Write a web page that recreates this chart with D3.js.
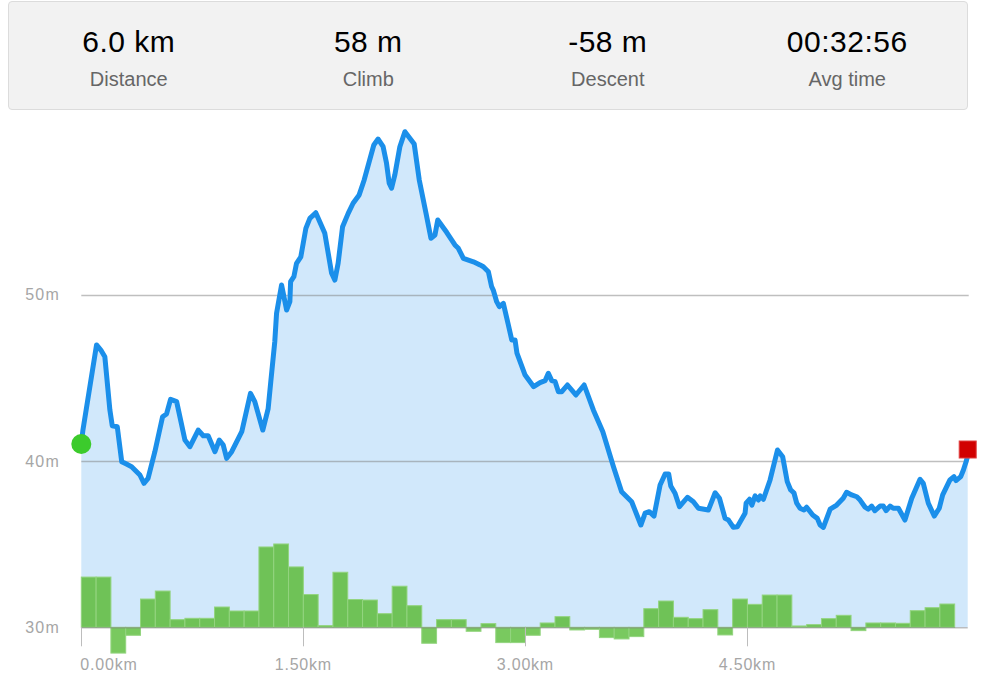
<!DOCTYPE html>
<html>
<head>
<meta charset="utf-8">
<script src="https://cdn.jsdelivr.net/npm/d3@7"></script>
<style>
  body { margin: 0; background: #fff; font-family: "Liberation Sans", Arial, sans-serif; }
  #stats {
    position: absolute; left: 8px; top: 1px; width: 958px; height: 107px;
    background: #f2f2f2; border: 1px solid #dcdcdc; border-radius: 4px;
    display: flex;
  }
  .stat { flex: 1; text-align: center; }
  .stat .val { font-size: 30px; letter-spacing: 0.5px; color: #000; margin-top: 22px; line-height: 35px; }
  .stat .lbl { font-size: 20px; color: #666; margin-top: 9px; line-height: 23px; }
  svg { position: absolute; left: 0; top: 0; }
</style>
</head>
<body>
<div id="stats"></div>
<svg width="983" height="684"></svg>
<script>
// Summary numbers shown in the header.
const statValues = ["6.0 km", "58 m", "-58 m", "00:32:56"];
const statLabels = ["Distance", "Climb", "Descent", "Avg time"];

// Elevation profile: distance (km) and elevation (m).
const distKm = [
  0.000, 0.011, 0.103, 0.132, 0.159, 0.193, 0.209, 0.243, 0.273, 0.295,
  0.340, 0.396, 0.423, 0.451, 0.497, 0.549, 0.576, 0.603, 0.644, 0.700,
  0.734, 0.790, 0.824, 0.857, 0.903, 0.932, 0.959, 0.982, 1.016, 1.084,
  1.143, 1.172, 1.226, 1.262, 1.280, 1.307, 1.319, 1.353, 1.387, 1.409,
  1.414, 1.436, 1.454, 1.483, 1.517, 1.544, 1.584, 1.645, 1.691, 1.713,
  1.735, 1.765, 1.803, 1.836, 1.877, 1.911, 1.976, 2.005, 2.039, 2.062,
  2.080, 2.096, 2.118, 2.152, 2.186, 2.249, 2.283, 2.329, 2.362, 2.389,
  2.408, 2.468, 2.524, 2.547, 2.581, 2.649, 2.694, 2.716, 2.750, 2.772,
  2.783, 2.806, 2.824, 2.851, 2.885, 2.908, 2.930, 2.943, 2.998, 3.056,
  3.099, 3.133, 3.155, 3.178, 3.201, 3.223, 3.246, 3.284, 3.341, 3.397,
  3.459, 3.523, 3.595, 3.650, 3.718, 3.780, 3.809, 3.837, 3.869, 3.910,
  3.944, 3.968, 3.982, 4.011, 4.041, 4.095, 4.135, 4.169, 4.236, 4.282,
  4.311, 4.349, 4.372, 4.405, 4.432, 4.484, 4.491, 4.514, 4.530, 4.552,
  4.574, 4.586, 4.608, 4.653, 4.703, 4.738, 4.769, 4.792, 4.814, 4.833,
  4.855, 4.882, 4.900, 4.941, 4.972, 4.991, 5.013, 5.059, 5.103, 5.147,
  5.170, 5.204, 5.239, 5.261, 5.295, 5.316, 5.339, 5.361, 5.396, 5.418,
  5.437, 5.464, 5.485, 5.520, 5.564, 5.610, 5.666, 5.688, 5.722, 5.762,
  5.796, 5.819, 5.868, 5.895, 5.909, 5.941, 5.959, 5.977, 5.988
];
const elevM = [
  41.02, 41.86, 46.98, 46.67, 46.27, 43.07, 42.12, 42.06, 39.96, 39.86,
  39.66, 39.16, 38.66, 38.96, 40.56, 42.66, 42.83, 43.71, 43.57, 41.26,
  40.86, 41.86, 41.52, 41.52, 40.56, 41.26, 40.96, 40.16, 40.56, 41.76,
  44.07, 43.57, 41.86, 43.13, 44.77, 47.17, 48.88, 50.58, 49.08, 49.58,
  50.78, 51.08, 51.89, 52.28, 53.99, 54.59, 54.93, 53.69, 51.29, 50.88,
  51.89, 54.09, 54.89, 55.50, 56.00, 56.90, 59.00, 59.36, 58.90, 57.90,
  56.70, 56.40, 57.20, 58.90, 59.80, 59.06, 56.90, 54.89, 53.39, 53.59,
  54.49, 53.75, 52.99, 52.79, 52.19, 51.98, 51.79, 51.68, 51.38, 50.48,
  50.28, 49.58, 49.28, 49.48, 48.18, 47.28, 47.28, 46.49, 45.17, 44.47,
  44.71, 44.83, 45.27, 44.83, 44.77, 44.17, 44.17, 44.57, 43.97, 44.57,
  43.07, 41.76, 39.66, 38.15, 37.55, 36.15, 36.86, 36.95, 36.69, 38.56,
  39.22, 39.22, 38.50, 38.06, 37.25, 37.82, 37.55, 37.16, 37.05, 38.09,
  37.76, 36.55, 36.45, 36.01, 36.05, 36.86, 37.46, 37.70, 37.35, 37.90,
  37.65, 37.90, 37.70, 38.86, 40.66, 40.26, 38.76, 38.26, 38.09, 37.46,
  37.16, 37.05, 37.22, 36.75, 36.55, 36.15, 36.01, 37.10, 37.35, 37.76,
  38.12, 37.96, 37.85, 37.65, 37.22, 37.10, 37.29, 37.01, 37.29, 37.29,
  37.01, 37.29, 37.16, 37.16, 36.45, 37.76, 38.90, 38.66, 37.46, 36.69,
  37.16, 37.96, 38.86, 39.06, 38.82, 39.06, 39.46, 39.96, 40.30
];

// Climb per 100 m segment (m), drawn as bars from the 30 m baseline.
const segClimb = [
  3.02, 3.02, -1.55, -0.48, 1.70, 2.18, 0.46, 0.54, 0.54, 1.22,
  0.98, 0.98, 4.83, 5.01, 3.63, 1.97, 0.10, 3.31, 1.67, 1.64,
  0.82, 2.47, 1.30, -0.96, 0.46, 0.46, -0.24, 0.22, -0.92, -0.92,
  -0.48, 0.26, 0.64, -0.16, -0.12, -0.62, -0.70, -0.56, 1.12, 1.58,
  0.60, 0.52, 1.06, -0.46, 1.70, 1.38, 1.94, 1.94, 0.08, 0.16,
  0.52, 0.72, -0.20, 0.26, 0.26, 0.24, 1.00, 1.18, 1.40
];
const segLen = 0.1;

const yTicks = [30, 40, 50];
const xTicks = [0, 1.5, 3.0, 4.5];

// Header.
const stats = d3.select("#stats").selectAll(".stat")
  .data(statValues.map((v, i) => ({ v, l: statLabels[i] })))
  .join("div").attr("class", "stat");
stats.append("div").attr("class", "val").text(d => d.v);
stats.append("div").attr("class", "lbl").text(d => d.l);

// Chart.
const svg = d3.select("svg");
const plotLeft = 81.3, plotRight = 967.7, plotTop = 128.4, plotBottom = 627.3;

const x = d3.scaleLinear().domain([0, d3.max(distKm)]).range([plotLeft, plotRight]);
const y = d3.scaleLinear().domain([30, 60]).range([plotBottom, plotTop]);

const pts = distKm.map((d, i) => ({ d, e: elevM[i] }));

// Area under profile.
svg.append("path")
  .datum(pts)
  .attr("fill", "#d1e8fb")
  .attr("d", d3.area().x(p => x(p.d)).y0(plotBottom).y1(p => y(p.e)));

// Grid lines.
svg.append("g")
  .selectAll("line")
  .data(yTicks.slice(1))
  .join("line")
  .attr("x1", plotLeft).attr("x2", plotRight + 1)
  .attr("y1", t => Math.round(y(t)) + 0.5).attr("y2", t => Math.round(y(t)) + 0.5)
  .attr("stroke", "#808080").attr("stroke-opacity", 0.5).attr("stroke-width", 1.5);

// Y labels.
svg.append("g")
  .selectAll("text")
  .data(yTicks)
  .join("text")
  .attr("x", 60).attr("y", t => y(t) + 5.5)
  .attr("text-anchor", "end")
  .attr("font-size", 16).attr("letter-spacing", 1.2).attr("fill", "#a6a6a6")
  .text(t => t + "m");

// Segment bars.
svg.append("g")
  .selectAll("rect")
  .data(segClimb)
  .join("rect")
  .attr("x", (v, i) => x(i * segLen))
  .attr("width", x(segLen) - x(0))
  .attr("y", v => v >= 0 ? y(30 + v) : y(30))
  .attr("height", v => Math.abs(y(30) - y(30 + v)))
  .attr("fill", v => v >= 0 ? "#6fc257" : "#79c95f")
  .attr("stroke", "#93d47f")
  .attr("stroke-width", 1);

// X axis line, ticks, labels.
svg.append("line")
  .attr("x1", plotLeft).attr("x2", plotRight)
  .attr("y1", plotBottom + 0.5).attr("y2", plotBottom + 0.5)
  .attr("stroke", "#808080").attr("stroke-opacity", 0.5).attr("stroke-width", 1.5);

const xt = svg.append("g").selectAll("g").data(xTicks).join("g");
xt.append("line")
  .attr("x1", t => Math.round(x(t)) + 0.5).attr("x2", t => Math.round(x(t)) + 0.5)
  .attr("y1", plotBottom).attr("y2", plotBottom + 19)
  .attr("stroke", "#bdbdbd");
xt.append("text")
  .attr("x", (t, i) => i === 0 ? x(t) - 1 : x(t))
  .attr("y", 670)
  .attr("text-anchor", (t, i) => i === 0 ? "start" : "middle")
  .attr("font-size", 16).attr("letter-spacing", 0.8).attr("fill", "#a6a6a6")
  .text(t => t.toFixed(2) + "km");

// Profile line.
svg.append("path")
  .datum(pts)
  .attr("fill", "none")
  .attr("stroke", "#1b8fea")
  .attr("stroke-width", 5)
  .attr("stroke-linejoin", "round")
  .attr("stroke-linecap", "round")
  .attr("d", d3.line().x(p => x(p.d)).y(p => y(p.e)));

// Start and end markers.
const first = pts[0], last = pts[pts.length - 1];
svg.append("circle")
  .attr("cx", x(first.d)).attr("cy", y(first.e)).attr("r", 10)
  .attr("fill", "#3ccb2c");
svg.append("rect")
  .attr("x", x(last.d) - 8.5).attr("y", y(last.e) - 15)
  .attr("width", 17).attr("height", 17)
  .attr("fill", "#d10000").attr("stroke", "#e04040");
</script>
</body>
</html>
